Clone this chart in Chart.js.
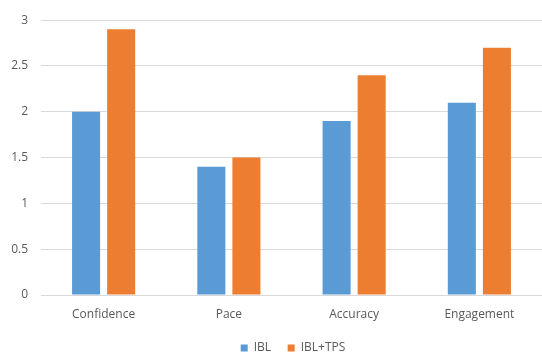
<!DOCTYPE html>
<html>
<head>
<meta charset="utf-8">
<script src="https://cdn.jsdelivr.net/npm/chart.js@4"></script>
<style>
  html, body { margin: 0; padding: 0; background: #fff; }
  #chart { display: block; }
</style>
</head>
<body>
<canvas id="chart" width="542" height="354"></canvas>
<script>
const categories = ['Confidence', 'Pace', 'Accuracy', 'Engagement']
const iblValues = [2.0, 1.4, 1.9, 2.1]
const iblTpsValues = [2.9, 1.5, 2.4, 2.7]

const textColor = '#595959'
const font = { family: "'Open Sans', 'Liberation Sans', sans-serif", size: 12 }

// legend in the original is centred under the plot, not the whole canvas
const shiftLegend = {
  id: 'shiftLegend',
  afterLayout(chart) {
    if (chart.legend) chart.legend.left += 44
  }
}

new Chart(document.getElementById('chart'), {
  type: 'bar',
  data: {
    labels: categories,
    datasets: [{
      label: 'IBL',
      data: iblValues,
      backgroundColor: '#5B9BD5',
      barPercentage: 0.8,
      categoryPercentage: 0.56
    }, {
      label: 'IBL+TPS',
      data: iblTpsValues,
      backgroundColor: '#ED7D31',
      barPercentage: 0.8,
      categoryPercentage: 0.56
    }]
  },
  plugins: [shiftLegend],
  options: {
    responsive: false,
    animation: false,
    // legend keeps ~10px of empty room under it, pull it down
    layout: { padding: { top: 19, right: 0, left: 0, bottom: -10 } },
    plugins: {
      legend: {
        position: 'bottom',
        labels: {
          boxWidth: 7,
          boxHeight: 7,
          padding: 1,
          color: textColor,
          font: font,
          // pad the text so items sit apart while rows stay tight
          generateLabels: (chart) => {
            const items = Chart.defaults.plugins.legend.labels.generateLabels(chart)
            items.forEach((it, i) => {
              if (i < items.length - 1) it.text = it.text + '     '
            })
            return items
          }
        }
      },
      tooltip: { enabled: false }
    },
    scales: {
      x: {
        grid: { display: false },
        border: { color: '#D9D9D9' },
        ticks: { color: textColor, font: font, padding: 4 },
        afterFit: (axis) => { axis.height = 46 }
      },
      y: {
        min: 0,
        max: 3,
        border: { display: false },
        grid: { color: '#D9D9D9', drawTicks: false },
        ticks: {
          stepSize: 0.5,
          color: textColor,
          font: font,
          padding: 13,
          callback: (v) => String(v)
        },
        afterFit: (axis) => { axis.width = 41 }
      }
    }
  }
})
</script>
</body>
</html>
